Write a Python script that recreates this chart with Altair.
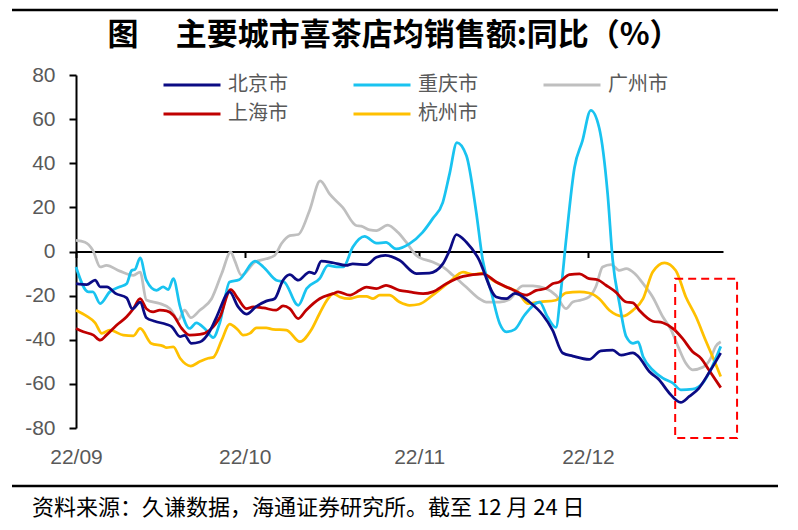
import altair as alt
import pandas as pd

TITLE = "图\u3000\u2009主要城市喜茶店均销售额:同比（%）"
SOURCE = "资料来源：久谦数据，海通证券研究所。截至 12 月 24 日"

# legend fills column by column (2 rows): 北京/上海, 重庆/杭州, 广州
CITIES = ["北京市", "上海市", "重庆市", "杭州市", "广州市"]
COLORS = ["#0B0B84", "#C00000", "#19C3F0", "#FFC000", "#BFBFBF"]
DRAW_ORDER = ["广州市", "杭州市", "重庆市", "上海市", "北京市"]

# day offsets from 2022-09-01 and values (%)
bj_day = [0, 1.9, 3.4, 4.3, 5.5, 7, 9, 10, 11.4, 12.5,
          14, 16, 17, 18.5, 19.3, 20.5, 22, 23.8, 25, 27.3,
          28.8, 30.3, 32, 33.8, 35.3, 36.8, 38, 39.5, 41.5, 42.4,
          43.6, 45.7, 48, 49.2, 51.6, 53.4, 55, 57.5, 60.5, 62.8,
          65.2, 66.4, 67.6, 69.4, 71.4, 74.7, 76.5, 78, 80.6, 83,
          84.7, 86.5, 88.3, 91.2, 93.3, 95.4, 96.9, 99, 100, 101.9,
          103.6, 105.4, 107.5, 109, 110.7, 112.5, 114.6]
bj_val = [-14.6, -15, -13, -16, -16, -19, -21, -26, -23, -30,
          -31.6, -33, -34, -38.6, -38, -41.6, -41, -36, -29.6, -18.3,
          -25, -28.4, -25, -22.5, -21.4, -13, -10.5, -13, -9.3, -10,
          -4.4, -5.1, -6.3, -5.6, -6, -2.6, -1.8, -4, -10, -9.8,
          -5.6, 0.5, 7.7, 4.2, -2.6, -20.6, -21.4, -19, -22.9, -28.9,
          -35.6, -46, -47.4, -48.9, -45, -44.7, -47, -45.9, -47.7, -54.4,
          -58, -64, -68.4, -65.7, -62, -55, -46]

cq_day = [0, 2.2, 3, 4.3, 6, 7.8, 9, 9.9, 10.5, 11.4,
          12.5, 14.3, 15.5, 16.4, 17.3, 18.5, 20.2, 21.4, 22.9, 24.4,
          25.6, 27.3, 29, 31.8, 33.3, 35.6, 37, 39.5, 41, 43.3,
          44.8, 46.3, 47.5, 49.2, 51.3, 53.4, 55.1, 56.9, 59.3, 61.6,
          63.4, 65.2, 66.4, 67.7, 69.4, 71.1, 72.3, 73.8, 75.3, 76.5,
          78, 79.7, 82.4, 83.8, 85.3, 86.2, 87.1, 88.6, 90, 91.5,
          93, 94.5, 95.4, 96.6, 97.8, 99, 99.9, 100.8, 102.5, 104.3,
          106.1, 107.5, 109.6, 111.4, 113.1, 114.6]
cq_val = [-7, -18.3, -18.3, -23.6, -18.3, -16, -14.6, -8.6, -8.1, -2.9,
          -13, -17.6, -16, -17.3, -12.3, -25, -34.9, -32.3, -35, -39,
          -32, -13.8, -12.8, -4.4, -7, -13, -13.8, -24.4, -16.8, -12.3,
          -6.3, -7, -7, 2, 6.8, 3.8, 4.1, 1.2, 3.6, 8.7,
          14.9, 22.3, 35.2, 49.4, 43.4, 18.5, -4, -18.3, -32.6, -36.4,
          -35.3, -28.9, -22.9, -29.6, -34.4, -17.6, 5, 38, 50, 64,
          56, 26, -4, -23.6, -38.6, -41.6, -41, -47.7, -53.7, -57.4,
          -59.7, -62.7, -62.4, -59.7, -52, -43]

gz_day = [0, 1.6, 3, 4.3, 5.4, 7.8, 10.2, 11.4, 12.5, 14.9,
          16.7, 18.2, 19.3, 20.4, 22, 24.1, 25.9, 27.5, 28.2, 29.4,
          31.8, 33.8, 35.3, 36.5, 38, 39.5, 41.5, 43.4, 45.1, 47.4,
          49.8, 50.7, 52.2, 53.4, 55.4, 57.2, 58.7, 60.5, 63.4, 65.2,
          67, 69.3, 71.7, 72.9, 75.3, 77, 79.4, 81.2, 83.5, 85.3,
          87.1, 88.3, 89.8, 91.2, 92.4, 93.6, 95.1, 96.6, 97.8, 99.3,
          100.8, 102.5, 104.3, 105.8, 107, 108.4, 109.6, 111.4, 112.8, 113.7,
          114.6]
gz_val = [5, 4.2, 0.5, -7, -6.3, -8.9, -10.8, -9.3, -22, -23.6,
          -25.9, -31, -26.6, -30, -26.6, -21.4, -10, -0.3, -4, -10.8,
          -4.8, -3.3, -1.8, 3.5, 7.2, 7.7, 18.5, 32, 26, 20,
          11.8, 11.5, 9.8, 9.5, 12, 8.7, 4.2, -1.8, -4.8, -7,
          -10.8, -16, -21.4, -22.9, -22.9, -21.8, -15.6, -15.6, -16.8, -19.8,
          -25.9, -22.9, -22, -20.6, -16, -7, -5.9, -8.6, -7.8, -10,
          -14.6, -20.6, -29.6, -35.6, -43, -50.7, -53.7, -52.5, -48.4, -43,
          -40.9]

sh_day = [0, 1.3, 3.1, 4.3, 5.4, 7.2, 9, 10.2, 11.4, 12.5,
          13.7, 14.9, 16.1, 17.3, 18.8, 20.2, 22, 23.8, 25.6, 27.5,
          28.8, 30.3, 31.5, 33.3, 35.6, 36.8, 38, 39.5, 40.9, 43.3,
          45.7, 46.6, 48.6, 50.4, 51.6, 53.4, 55.1, 57.5, 59.3, 61.7,
          63.4, 65.8, 68.8, 72.3, 74.7, 77.6, 80, 81.8, 83.5, 84.7,
          85.9, 87.7, 89.5, 91.2, 92.7, 94.2, 95.9, 97.8, 99, 100.1,
          102.5, 104.3, 106.3, 107.8, 109.6, 111.1, 112.5, 114.6]
sh_val = [-34.9, -36.4, -37.9, -40.2, -37.9, -33.4, -29.6, -25.9, -21.4, -25.9,
          -27.4, -26.6, -26.9, -28.9, -34.9, -37.9, -37.6, -35.6, -29.6, -17.3,
          -21.4, -25.9, -25.1, -25.6, -26.6, -24.7, -25.9, -30.4, -26.6, -21.4,
          -19.1, -18.3, -19.8, -17.6, -16.1, -16.8, -15.3, -17.6, -18.3, -19.1,
          -18.3, -14.6, -11.3, -10.1, -13.8, -17.3, -19.8, -17.6, -16.8, -14.6,
          -13.8, -10.5, -10.1, -12.3, -12.8, -15.3, -18.3, -22.9, -23.3, -26.6,
          -31.6, -32.3, -35.3, -39.4, -45.4, -48.4, -53.7, -61.7]

hz_day = [0, 1.9, 3.4, 4.6, 6, 8.4, 10.2, 11.4, 13.4, 15.5,
          16.1, 17.3, 18.5, 20.4, 22, 23.5, 24.4, 25.9, 27.3, 28.8,
          29.7, 30.9, 32.1, 33.8, 35, 37.4, 39.8, 41.8, 43.3, 44.8,
          45.7, 46.9, 48.6, 50.4, 51.6, 52.8, 54, 55.7, 57.5, 59.3,
          61, 63.4, 66.4, 68.8, 70.5, 72.3, 74.1, 76.5, 78.5, 80.3,
          82.4, 85.3, 87.1, 89.5, 91.2, 93, 94.8, 97.2, 99, 100.8,
          102.5, 104.6, 106.6, 108.4, 110.2, 111.9, 113.4, 114.6]
hz_val = [-26.6, -29.3, -32.3, -37.1, -35.6, -37.9, -38.2, -34.9, -41.7, -42.9,
          -43.6, -43.2, -48.4, -51.9, -49.9, -48.4, -48, -40.2, -32.9, -35.6,
          -37.9, -37.1, -34.6, -34.6, -35.3, -35.6, -40.9, -35.6, -28.1, -21.4,
          -19.1, -20.6, -21.4, -20.3, -20.3, -21.4, -19.8, -19.8, -22.9, -24.4,
          -23.9, -19.8, -13.8, -9.3, -10.4, -9.8, -13.1, -16.1, -18.3, -23.6,
          -22.9, -22.1, -18.8, -18.3, -18.8, -21.4, -26.6, -29.3, -26.6, -21.4,
          -9.3, -5.1, -8.6, -20.6, -29.6, -40.2, -49.2, -56.7]

# highlight box (days from 2022-09-01, values)
BOX_DAYS = [106.5, 117.5]
BOX_VALS = [-12.3, -84.5]

Y_TICKS = [-80, -60, -40, -20, 0, 20, 40, 60, 80]
X_TICK_DATES = ["2022-09-01", "2022-10-01", "2022-11-01", "2022-12-01"]
X_END_DAY = 115

DAY = 86400000
BASE = pd.Timestamp("2022-09-01", tz="UTC").value // 10**6


def ms(d):
    return BASE + d * DAY


series = {
    "北京市": (bj_day, bj_val),
    "重庆市": (cq_day, cq_val),
    "广州市": (gz_day, gz_val),
    "上海市": (sh_day, sh_val),
    "杭州市": (hz_day, hz_val),
}
rows = []
for city, (ds, vs) in series.items():
    assert len(ds) == len(vs), city
    for d, v in zip(ds, vs):
        rows.append({"city": city, "t": ms(d), "v": v})
df = pd.DataFrame(rows)

tick_ms = [pd.Timestamp(s, tz="UTC").value // 10**6 for s in X_TICK_DATES]

xscale = alt.Scale(type="utc", domain=[ms(0), ms(X_END_DAY)], nice=False)
yscale = alt.Scale(domain=[-80, 80], nice=False)
cscale = alt.Scale(domain=CITIES, range=COLORS)

legend = alt.Legend(
    orient="none", legendX=86, legendY=2, columns=3, title=None,
    symbolType="stroke", symbolSize=3249, symbolStrokeWidth=3,
    clipHeight=16, rowPadding=9, columnPadding=64, labelOffset=6,
    labelFontSize=20, labelFont="Noto Sans CJK SC", labelColor="#595959",
    padding=0, labelLimit=0,
)

x_axis = alt.Axis(
    orient="bottom", values=tick_ms, labelExpr="utcFormat(datum.value, '%y/%m')",
    domain=False, ticks=False, grid=False, title=None, labelFlush=False,
    labelFontSize=21, labelFont="Liberation Sans", labelColor="#595959",
    labelPadding=18,
)
y_axis = alt.Axis(
    orient="left", values=Y_TICKS, labelExpr="'' + datum.value", grid=False,
    title=None, domainColor="black", domainWidth=2, tickColor="black",
    tickWidth=2, tickSize=7, labelFontSize=21, labelFont="Liberation Sans",
    labelColor="#595959", labelPadding=14,
)
Y = alt.Y("v:Q", scale=yscale, axis=y_axis)

# zero line with month ticks (second x axis placed on the 0 value)
tick_df = pd.DataFrame({"t": tick_ms, "v": [0] * len(tick_ms)})
zero_axis = alt.Chart(tick_df).mark_point(opacity=0).encode(
    x=alt.X("t:T", scale=xscale, axis=alt.Axis(
        orient="bottom", offset=-176.5, values=tick_ms, labels=False,
        grid=False, title=None, domainColor="black", domainWidth=2,
        tickColor="black", tickWidth=2, tickSize=6)),
    y=Y,
)

layers = []
for i, city in enumerate(DRAW_ORDER):
    layers.append(
        alt.Chart(df).transform_filter(alt.datum.city == city)
        .mark_line(strokeWidth=2.75, interpolate="monotone")
        .encode(
            x=alt.X("t:T", scale=xscale, axis=x_axis if i == 0 else None),
            y=Y,
            color=alt.Color("city:N", scale=cscale, legend=legend),
        )
    )

box_df = pd.DataFrame({"x0": [ms(BOX_DAYS[0])], "x1": [ms(BOX_DAYS[1])],
                       "y0": [BOX_VALS[0]], "y1": [BOX_VALS[1]]})
box = alt.Chart(box_df).mark_rect(
    fillOpacity=0, stroke="#FF0000", strokeWidth=2, strokeDash=[8, 5], clip=False
).encode(
    x=alt.X("x0:T", scale=xscale, axis=None), x2="x1",
    y=Y, y2="y1",
).transform_calculate(v="datum.y0")

one = pd.DataFrame({"title": [TITLE], "source": [SOURCE]})
title = alt.Chart(one).mark_text(
    font="Noto Sans CJK SC", fontSize=31, fontWeight="bold", color="black",
    align="center", baseline="middle",
).encode(text="title:N", x=alt.value(318), y=alt.value(-39))
source = alt.Chart(one).mark_text(
    font="Noto Sans CJK SC", fontSize=22, color="black",
    align="left", baseline="middle",
).encode(text="source:N", x=alt.value(-44), y=alt.value(433))
top_rule = alt.Chart(one).mark_rule(color="black", strokeWidth=2.5).encode(
    x=alt.value(-64), x2=alt.value(702), y=alt.value(-65))
bottom_rule = alt.Chart(one).mark_rule(color="black", strokeWidth=2.5).encode(
    x=alt.value(-64), x2=alt.value(702), y=alt.value(411))

chart = alt.layer(
    zero_axis, *layers, box, title, source, top_rule, bottom_rule
).resolve_axis(x="independent", y="shared").properties(
    width=647, height=353,
    autosize=alt.AutoSizeParams(type="none"),
    padding={"left": 68, "top": 67, "right": 60, "bottom": 95},
).configure_view(stroke=None)

chart.save("out.html", embed_options={"renderer": "svg", "actions": False})
